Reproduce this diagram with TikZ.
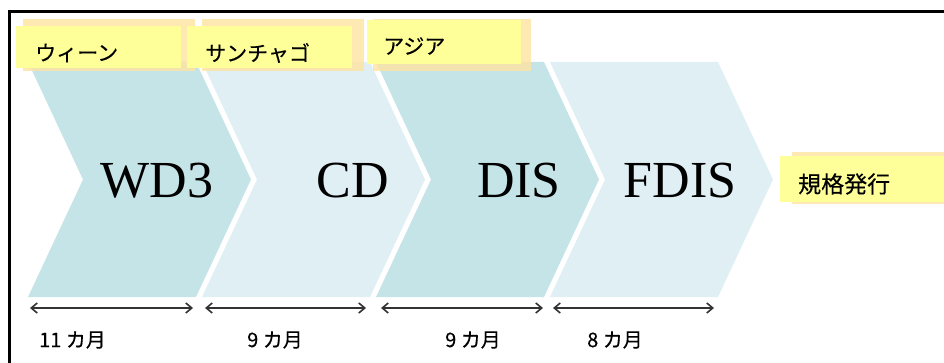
\documentclass[tikz,border=0pt]{standalone}
\usepackage{fontspec}
\setmainfont{Liberation Serif}
\newfontfamily\jp[FakeBold=0.35]{Noto Sans CJK JP}
\usetikzlibrary{arrows.meta}
\definecolor{chevA}{HTML}{C5E4E8}
\definecolor{chevB}{HTML}{DFEFF4}
\definecolor{tagY}{HTML}{FFFF99}
\definecolor{tagO}{HTML}{FFE3A0}
\definecolor{arr}{HTML}{333333}
\tikzset{
  stagetext/.style={font=\fontsize{52}{52}\selectfont, anchor=base, inner sep=0pt},
  tagtext/.style={font=\jp\fontsize{21}{21}\selectfont, anchor=west, inner sep=0pt},
  monthtext/.style={font=\jp\fontsize{20}{20}\selectfont, anchor=west, inner sep=0pt},
  tagback/.style={fill=tagO, opacity=0.8},
  tagfront/.style={fill=tagY},
  span/.style={draw=arr, line width=1.6pt, {Straight Barb[length=6pt,width=10pt]}-{Straight Barb[length=6pt,width=10pt]}}
}
\begin{document}
\begin{tikzpicture}[x=1pt,y=-1pt]
\useasboundingbox (0,0) rectangle (944,363);
% frame
\draw[line width=2.5pt] (9.5,363) -- (9.5,11.5) -- (944,11.5);
% chevrons
\foreach \L/\c in {28/chevA,202/chevB,376/chevA,550/chevB} {
  \fill[\c] (\L,62) -- ++(168,0) -- ++(55,117.5) -- ++(-55,117.5) -- ++(-168,0) -- ++(55,-117.5) -- cycle;
}
% stage names
\node[stagetext] (wd3) at (157,198) {WD3};
\node[stagetext] (cd) at (353,198) {CD};
\node[stagetext] (dis) at (519,198) {DIS};
\node[stagetext] (fdis) at (680,198) {FDIS};
% tags
\fill[tagback] (23,19) rectangle (195,71);
\fill[tagfront] (16,26) rectangle (181,68);
\node[tagtext] (vienna) at (35,53) {ウィーン};
\fill[tagback] (202,19) rectangle (364,71);
\fill[tagfront] (187,26) rectangle (352,68);
\node[tagtext] (santiago) at (205,53) {サンチャゴ};
\fill[tagback] (373,19) rectangle (531,71);
\fill[tagfront] (367,20) rectangle (521,64);
\node[tagtext] (asia) at (383,46) {アジア};
\fill[tagback] (792,152) rectangle (944,204);
\fill[tagfront] (780,156) rectangle (944,202);
\node[tagtext, font=\jp\fontsize{23}{23}\selectfont] (pub) at (798,184) {規格発行};
% spans
\coordinate (s1a) at (30,308); \coordinate (s1b) at (193,308);
\coordinate (s2a) at (205,308); \coordinate (s2b) at (366,308);
\coordinate (s3a) at (381,308); \coordinate (s3b) at (543,308);
\coordinate (s4a) at (553,308); \coordinate (s4b) at (714,308);
\draw[span] (s1a) -- (s1b);
\draw[span] (s2a) -- (s2b);
\draw[span] (s3a) -- (s3b);
\draw[span] (s4a) -- (s4b);
\node[monthtext] (m1) at (39,340) {11 カ月};
\node[monthtext] (m2) at (247,340) {9 カ月};
\node[monthtext] (m3) at (445,340) {9 カ月};
\node[monthtext] (m4) at (587,340) {8 カ月};
\end{tikzpicture}
\end{document}
